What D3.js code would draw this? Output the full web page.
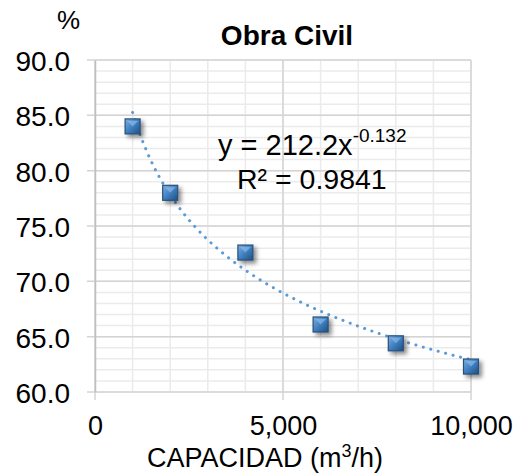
<!DOCTYPE html>
<html>
<head>
<meta charset="utf-8">
<script src="https://cdn.jsdelivr.net/npm/d3@7"></script>
<style>
  body { margin: 0; background: #fff; }
  text { font-family: "Liberation Sans", Arial, sans-serif; fill: #000; }
</style>
</head>
<body>
<svg></svg>
<script>
// DATA ////////////////////////////////////////////////////////////////////////
const capacidad = [1000, 2000, 4000, 6000, 8000, 10000];
const porcentaje = [84.0, 78.0, 72.6, 66.1, 64.4, 62.3];
const xTicks = [0, 5000, 10000];
const yTicks = [60, 65, 70, 75, 80, 85, 90];
const fitA = 212.2;
const fitB = -0.132;
const r2 = 0.9841;

// SET PARAMETERS //////////////////////////////////////////////////////////////
const svg = d3.select('svg').attr('width', 529).attr('height', 474);
const margin = { top: 60, right: 58, bottom: 82, left: 95 };
const width = 529 - margin.left - margin.right;
const height = 474 - margin.top - margin.bottom;

const g = svg.append('g')
  .attr('transform', `translate(${margin.left},${margin.top})`);

const x = d3.scaleLinear().domain([0, 10000]).range([0, width]);
const y = d3.scaleLinear().domain([60, 90]).range([height, 0]);

// defs: marker gradient + shadow
const defs = svg.append('defs');
const grad = defs.append('linearGradient').attr('id', 'mk')
  .attr('x1', 0).attr('y1', 0).attr('x2', 1).attr('y2', 1);
grad.append('stop').attr('offset', '0%').attr('stop-color', '#7fb0e0');
grad.append('stop').attr('offset', '50%').attr('stop-color', '#3f7fc0');
grad.append('stop').attr('offset', '100%').attr('stop-color', '#1f4f80');
const sh = defs.append('filter').attr('id', 'sh')
  .attr('x', '-50%').attr('y', '-50%').attr('width', '220%').attr('height', '220%');
sh.append('feDropShadow').attr('dx', 3).attr('dy', 3).attr('stdDeviation', 2)
  .attr('flood-color', '#000').attr('flood-opacity', 0.45);

// GRID ////////////////////////////////////////////////////////////////////////
// minor
g.append('g').selectAll('line')
  .data(d3.range(0, 10001, 1000))
  .enter().append('line')
  .attr('x1', d => x(d)).attr('x2', d => x(d))
  .attr('y1', 0).attr('y2', height)
  .attr('stroke', '#ebebeb').attr('stroke-width', 1.5);
g.append('g').selectAll('line')
  .data(d3.range(60, 91, 1))
  .enter().append('line')
  .attr('x1', 0).attr('x2', width)
  .attr('y1', d => y(d)).attr('y2', d => y(d))
  .attr('stroke', '#ebebeb').attr('stroke-width', 1.5);
// major
g.append('g').selectAll('line')
  .data(xTicks)
  .enter().append('line')
  .attr('x1', d => x(d)).attr('x2', d => x(d))
  .attr('y1', 0).attr('y2', height + 8)
  .attr('stroke', '#d4d4d4').attr('stroke-width', 1.5);
g.append('g').selectAll('line')
  .data(yTicks)
  .enter().append('line')
  .attr('x1', -8).attr('x2', width)
  .attr('y1', d => y(d)).attr('y2', d => y(d))
  .attr('stroke', '#d4d4d4').attr('stroke-width', 1.5);

// AXES ////////////////////////////////////////////////////////////////////////
const yAxis = g.append('g')
  .call(d3.axisLeft(y).tickValues(yTicks).tickFormat(d3.format('.1f')).tickSize(0).tickPadding(25));
yAxis.select('.domain').attr('stroke', '#bfbfbf').attr('stroke-width', 1.5);
yAxis.selectAll('text').style('font-size', '28px').attr('dy', '0.37em');

const xAxis = g.append('g')
  .attr('transform', `translate(0,${height})`)
  .call(d3.axisBottom(x).tickValues(xTicks).tickFormat(d3.format(',')).tickSize(0).tickPadding(24));
xAxis.select('.domain').remove();
xAxis.selectAll('text').style('font-size', '27px');

// TRENDLINE ///////////////////////////////////////////////////////////////////
const xs = d3.range(capacidad[0], capacidad[capacidad.length - 1] + 1, 100);
g.append('path')
  .datum(xs)
  .attr('fill', 'none')
  .attr('stroke', '#5b9bd5')
  .attr('stroke-width', 3)
  .attr('stroke-linecap', 'round')
  .attr('stroke-dasharray', '0.1 7.6')
  .attr('d', d3.line().x(d => x(d)).y(d => y(fitA * Math.pow(d, fitB))));

// POINTS //////////////////////////////////////////////////////////////////////
const s = 15;
const pts = g.selectAll('.pt')
  .data(capacidad.map((c, i) => ({ c, p: porcentaje[i] })))
  .enter().append('g')
  .attr('class', 'pt')
  .attr('transform', d => `translate(${x(d.c)},${y(d.p)})`);
pts.append('rect')
  .attr('x', -s / 2).attr('y', -s / 2).attr('width', s).attr('height', s)
  .attr('fill', 'url(#mk)').attr('stroke', '#2a4f78').attr('stroke-width', 1.2)
  .attr('filter', 'url(#sh)');
pts.append('path')
  .attr('d', `M${-s / 2 + 2},${-s / 2 + 2}L0,0L${s / 2 - 2},${-s / 2 + 2}Z`)
  .attr('fill', '#8fc0ee').attr('opacity', 0.6);

// TEXT ////////////////////////////////////////////////////////////////////////
svg.append('text').attr('x', 57).attr('y', 29).style('font-size', '26px').text('%');
svg.append('text').attr('x', 287).attr('y', 45).attr('text-anchor', 'middle')
  .style('font-size', '28px').style('font-weight', 'bold').text('Obra Civil');

const eq = svg.append('text').attr('x', 218).attr('y', 155).style('font-size', '29px');
eq.append('tspan').text(`y = ${fitA}x`);
eq.append('tspan').attr('dy', -13).style('font-size', '19px').text(`${fitB}`);
svg.append('text').attr('x', 237).attr('y', 189).style('font-size', '28.5px')
  .text(`R² = ${r2}`);

const xl = svg.append('text').attr('x', 265).attr('y', 467).attr('text-anchor', 'middle')
  .style('font-size', '27px');
xl.append('tspan').text('CAPACIDAD (m');
xl.append('tspan').attr('dy', -10).style('font-size', '18px').text('3');
xl.append('tspan').attr('dy', 10).text('/h)');
</script>
</body>
</html>
